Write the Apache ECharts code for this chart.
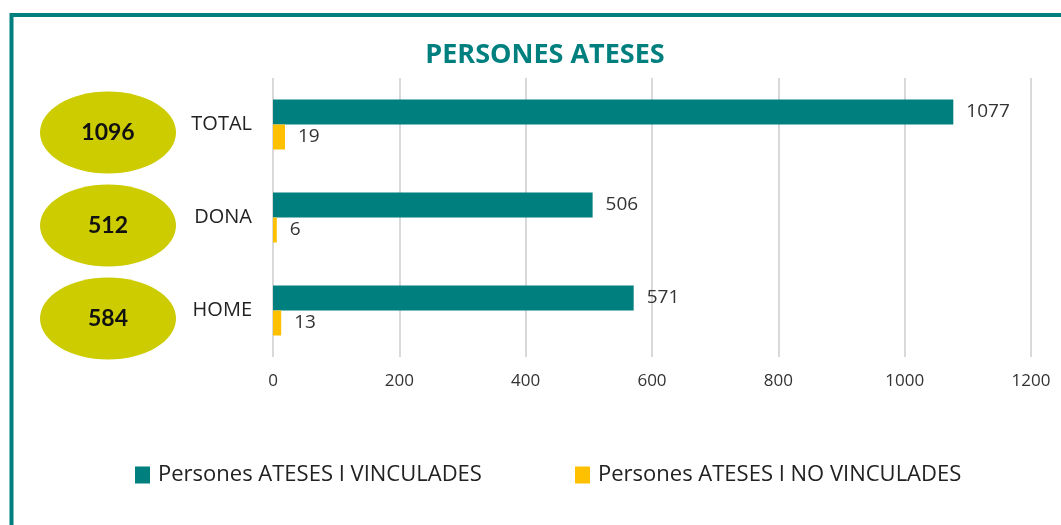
<!DOCTYPE html>
<html>
<head>
<meta charset="utf-8">
<script src="https://cdn.jsdelivr.net/npm/echarts@6/dist/echarts.min.js"></script>
<style>
  html, body { margin: 0; padding: 0; background: #fff; }
  #chart { width: 1061px; height: 525px; }
</style>
</head>
<body>
<div id="chart"></div>
<script>
const categories = ['TOTAL', 'DONA', 'HOME']
const vinculades = [1077, 506, 571]
const noVinculades = [19, 6, 13]
const totals = [1096, 512, 584]
const xTicks = [0, 200, 400, 600, 800, 1000, 1200]
const seriesNames = ['Persones ATESES I VINCULADES', 'Persones ATESES I NO VINCULADES']

const teal = '#007F7F'
const yellow = '#FFC000'
const olive = '#CCCC00'
const font = '"Open Sans"'

const chart = echarts.init(document.getElementById('chart'))

const labelStyle = { show: true, position: 'right', distance: 13, color: '#333', fontSize: 19, fontFamily: font }
const legendBase = {
  top: 459, itemWidth: 15, itemHeight: 17, icon: 'rect',
  textStyle: { color: '#222', fontSize: 22, fontFamily: font, padding: [0, 0, 0, 3] }
}

chart.setOption({
  animation: false,
  title: {
    text: 'PERSONES ATESES',
    left: 540, top: 37, textAlign: 'center',
    textStyle: { color: teal, fontSize: 27, fontWeight: 'bold', fontFamily: font }
  },
  // two legends so each item sits where it does in the original
  legend: [
    Object.assign({ left: 130, data: [seriesNames[0]] }, legendBase),
    Object.assign({ left: 570, data: [seriesNames[1]] }, legendBase)
  ],
  grid: { left: 273, right: 30, top: 78, bottom: 168 },
  xAxis: {
    type: 'value',
    min: xTicks[0], max: xTicks[xTicks.length - 1], interval: 200,
    axisLine: { show: false },
    axisTick: { show: false },
    axisLabel: { color: '#333', fontSize: 17, fontFamily: font, margin: 16, formatter: v => String(v) },
    splitLine: { lineStyle: { color: '#D9D9D9', width: 2 } }
  },
  yAxis: {
    type: 'category',
    inverse: true,
    data: categories,
    axisLine: { show: false },
    axisTick: { show: false },
    axisLabel: { color: '#222', fontSize: 20, fontFamily: font, margin: 21 }
  },
  series: [
    {
      name: seriesNames[0], type: 'bar', data: vinculades,
      barWidth: 25, barGap: '0%',
      itemStyle: { color: teal },
      label: labelStyle
    },
    {
      name: seriesNames[1], type: 'bar', data: noVinculades,
      barWidth: 25, barGap: '0%',
      itemStyle: { color: yellow },
      label: labelStyle
    }
  ]
})

// frame + total ellipses next to each category
const graphics = [{
  type: 'rect', silent: true,
  shape: { x: 11.5, y: 15, width: 1200, height: 700 },
  style: { fill: null, stroke: teal, lineWidth: 4 }
}]
categories.forEach((c, i) => {
  const cy = chart.convertToPixel({ yAxisIndex: 0 }, c) + 8
  graphics.push({
    type: 'ellipse', silent: true,
    shape: { cx: 108, cy: cy, rx: 68, ry: 41 },
    style: { fill: olive }
  })
  graphics.push({
    type: 'text', silent: true,
    x: 108, y: cy,
    style: {
      text: String(totals[i]), align: 'center', verticalAlign: 'middle',
      fill: '#111', font: 'bold 23px Lato'
    }
  })
})
chart.setOption({ graphic: graphics })
</script>
</body>
</html>
